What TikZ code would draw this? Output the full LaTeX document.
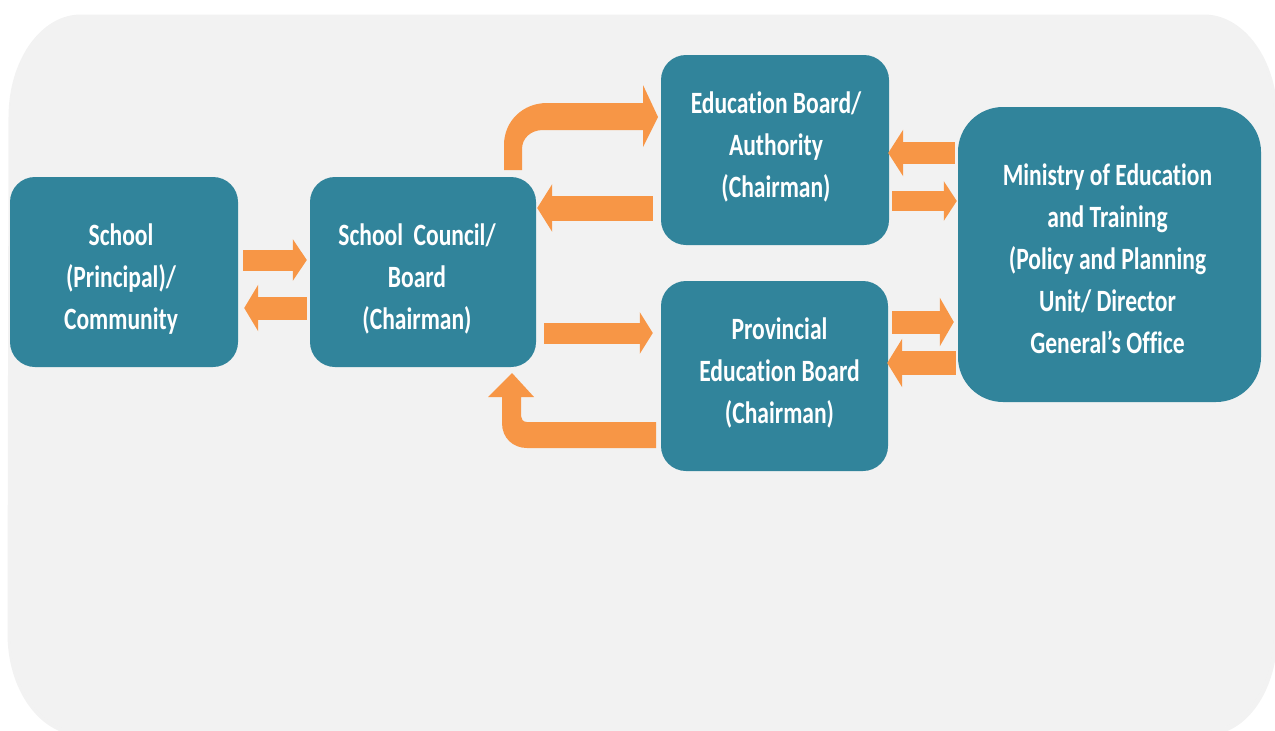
\documentclass[tikz,border=0pt]{standalone}
\usepackage{fontspec}
\setmainfont[FakeStretch=0.76, Ligatures=NoCommon]{Carlito}
\usetikzlibrary{arrows.meta,calc}
\definecolor{teal5}{HTML}{31849B}
\definecolor{orng}{HTML}{F79646}
\definecolor{bggray}{HTML}{F2F2F2}
\tikzset{
  box/.style={fill=teal5, draw=none, rounded corners=25pt, text=white, align=center,
    font=\fontsize{31}{42}\selectfont\bfseries, inner sep=0pt},
  barrow/.style={draw=orng, line width=#1, line cap=butt},
}
\begin{document}
\begin{tikzpicture}[x=1pt, y=-1pt]
\useasboundingbox (0,0) rectangle (1275,731);
% background panel with soft shadow
\draw[black, opacity=0.05, line width=5pt] (11,117) .. controls (11,62) and (42,17) .. (81,17) -- (1204,17) .. controls (1243,17) and (1275,62) .. (1275,117) -- (1275,634) .. controls (1275,689) and (1245,733) .. (1206,733) -- (81,733) .. controls (42,733) and (10,689) .. (10,634) -- cycle;
\fill[bggray] (10,115) .. controls (10,60) and (41,15) .. (80,15) -- (1205,15) .. controls (1244,15) and (1274,60) .. (1274,115) -- (1274,632) .. controls (1274,687) and (1244,731) .. (1205,731) -- (80,731) .. controls (41,731) and (10,687) .. (10,632) -- cycle;

% boxes
\node[box, minimum width=228pt, minimum height=190pt] (school) at (124,272) {};
\node[box, minimum width=226pt, minimum height=190pt] (council) at (423,272) {};
\node[box, minimum width=228pt, minimum height=190pt] (edb) at (775,150) {};
\node[box, minimum width=227pt, minimum height=190pt] (prov) at (774.5,376) {};
\node[box, minimum width=303pt, minimum height=295pt, rounded corners=45pt] (min) at (1109.5,254.5) {};

% texts
\node[box, fill=none] (schoolt) at ($(school.center)+(-3,7)$) {School\\(Principal)/\\Community};
\node[box, fill=none] (councilt) at ($(council.center)+(-6,7)$) {School\, Council/\\Board\\(Chairman)};
\node[box, fill=none] (edbt) at ($(edb.center)+(1,-3)$) {Education Board/\\Authority\\(Chairman)};
\node[box, fill=none] (provt) at ($(prov.center)+(5,-3)$) {Provincial\\Education Board\\(Chairman)};
\node[box, fill=none] (mint) at ($(min.center)+(-2,4)$) {Ministry of Education\\and Training\\(Policy and Planning\\Unit/ Director\\General’s Office};

% straight block arrows
\draw[barrow=21pt, -{Triangle[length=14pt, width=41pt]}] ($(school.east)+(5,-12)$) -- ($(council.west)+(-3,-12)$);
\draw[barrow=23pt, -{Triangle[length=14pt, width=46pt]}] ($(council.west)+(-3,36)$) -- ($(school.east)+(6,36)$);
\draw[barrow=25pt, -{Triangle[length=15pt, width=47pt]}] ($(edb.west)+(-8,58)$) -- ($(council.east)+(1,-64)$);
\draw[barrow=21pt, -{Triangle[length=13pt, width=41pt]}] ($(council.east)+(8,61)$) -- ($(prov.west)+(-8,-43)$);
\draw[barrow=22pt, -{Triangle[length=15pt, width=46pt]}] ($(min.west)+(-3,-101.5)$) -- ($(edb.east)+(-1,3)$);
\draw[barrow=20pt, -{Triangle[length=13pt, width=39pt]}] ($(edb.east)+(3,51)$) -- ($(min.west)+(-1,-53.5)$);
\draw[barrow=23pt, -{Triangle[length=14pt, width=48pt]}] ($(prov.east)+(4,-54)$) -- ($(min.west)+(-4,67.5)$);
\draw[barrow=24pt, -{Triangle[length=15pt, width=48pt]}] ($(min.west)+(-2,108.5)$) -- ($(prov.east)+(-1,-13)$);

% curved block arrows
\fill[orng] (504,170) -- (504,145) .. controls (504,121) and (523,103) .. (547,103) -- (643,103) -- (643,85) -- (658,117) -- (643,147) -- (643,130) -- (543,130) .. controls (531,130) and (522,138) .. (522,149) -- (522,170) -- cycle;
\fill[orng] (656,422) -- (656,448) -- (527,448) .. controls (513,448) and (502,438) .. (502,423) -- (502,397) -- (488,397) -- (512,373) -- (534,397) -- (521,397) -- (521,416) .. controls (521,419) and (523,422) .. (527,422) -- cycle;
\end{tikzpicture}
\end{document}
